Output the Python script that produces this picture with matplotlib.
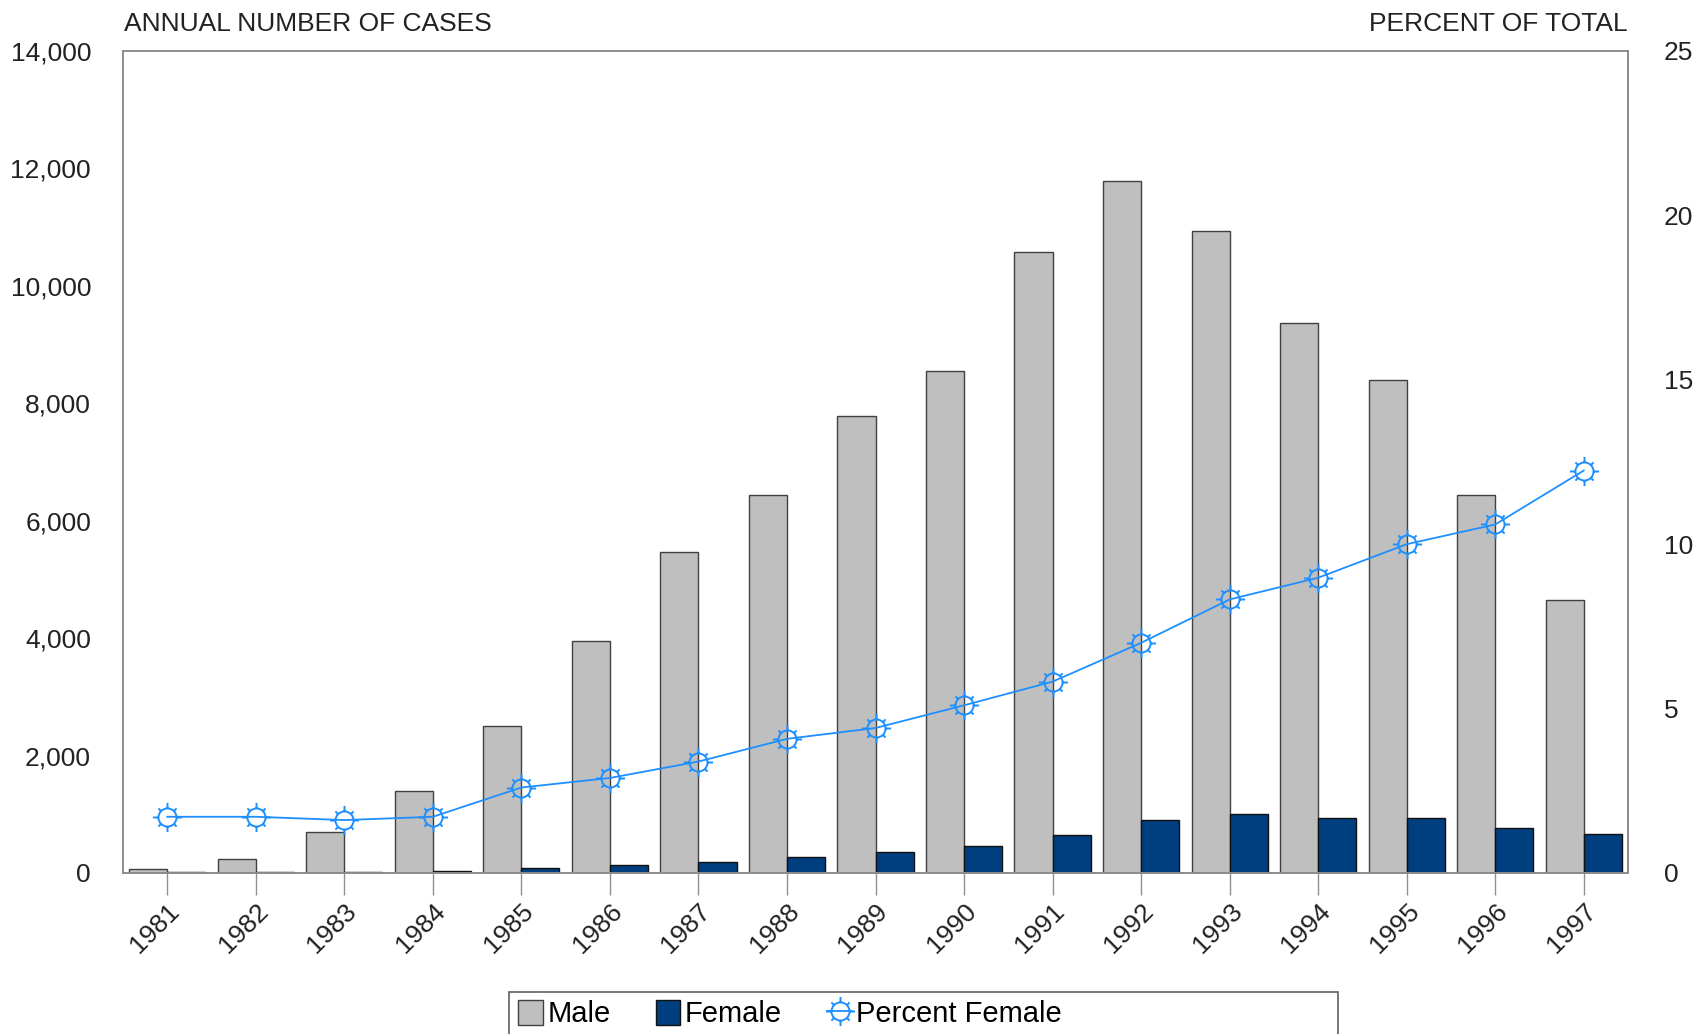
import matplotlib
matplotlib.use("Agg")
import matplotlib.pyplot as plt
import numpy as np
from matplotlib.path import Path
from matplotlib.patches import Rectangle

plt.rcParams['font.family'] = ['Liberation Sans', 'DejaVu Sans']

years = ["1981", "1982", "1983", "1984", "1985", "1986", "1987", "1988", "1989",
         "1990", "1991", "1992", "1993", "1994", "1995", "1996", "1997"]
male = [70, 240, 700, 1400, 2510, 3950, 5470, 6440, 7790, 8550, 10580, 11780,
        10930, 9370, 8390, 6430, 4650]
female = [12, 15, 20, 40, 85, 130, 185, 275, 350, 460, 652, 896, 998, 930, 937, 766, 658]
pct_female = [1.71, 1.71, 1.61, 1.71, 2.6, 2.89, 3.39, 4.08, 4.41, 5.1, 5.82, 7.0,
              8.32, 8.98, 10.0, 10.6, 12.24]

# sun-like marker: circle with 8 spokes
R = 0.62
circ = Path.unit_circle()
verts = list(circ.vertices * R)
codes = list(circ.codes)
for k in range(8):
    a = k * np.pi / 4
    r2 = 1.0 if k % 2 == 0 else 0.88
    verts += [(R * np.cos(a), R * np.sin(a)), (r2 * np.cos(a), r2 * np.sin(a))]
    codes += [Path.MOVETO, Path.LINETO]
sun = Path(verts, codes)

fig = plt.figure(figsize=(16.96, 10.34), dpi=100)
ax = fig.add_axes([123 / 1696, 1 - 873 / 1034, (1628 - 123) / 1696, (873 - 51) / 1034])
ax2 = ax.twinx()

x = np.arange(len(years))
w = 0.43
ax.bar(x - w / 2, male, width=w, color='#BFBFBF', edgecolor='#404040', linewidth=1.0, label='Male', zorder=2)
ax.bar(x + w / 2, female, width=w, color='#003F7F', edgecolor='#111111', linewidth=1.0, label='Female', zorder=2)
ax2.plot(x, pct_female, color='#1E8FFF', linewidth=1.3, marker=sun, markersize=21,
         markerfacecolor='none', markeredgecolor='#1E8FFF', markeredgewidth=1.4,
         label='Percent Female', zorder=3)

ax.set_xlim(-0.5, len(years) - 0.5)
ax.set_ylim(0, 14000)
ax2.set_ylim(0, 25)
ax.set_yticks(np.arange(0, 14001, 2000))
ax.set_yticklabels([f"{v:,}" for v in range(0, 14001, 2000)])
ax2.set_yticks(np.arange(0, 26, 5))
ax.set_xticks(x)
ax.set_xticklabels(years, rotation=45, ha='right', rotation_mode='anchor')

ax.tick_params(axis='y', length=0, pad=23, labelsize=19, colors='#222222')
ax2.tick_params(axis='y', length=0, pad=26, labelsize=19, colors='#222222')
ax.tick_params(axis='x', length=16, width=1.0, color='#909090', labelsize=19, pad=3,
               labelcolor='#222222')
for a in (ax, ax2):
    for s in a.spines.values():
        s.set_color('#8C8C8C')
        s.set_linewidth(1.2)

fig.text(124 / 1696, 1 - 24 / 1034, "ANNUAL NUMBER OF CASES", fontsize=19, ha='left', va='center', color='#222222')
fig.text(1628 / 1696, 1 - 24 / 1034, "PERCENT OF TOTAL", fontsize=19, ha='right', va='center', color='#222222')

# legend box
fig.patches.append(Rectangle((509 / 1696, -0.02), (1338 - 509) / 1696, 1 - 992 / 1034 + 0.02,
                             transform=fig.transFigure, fill=False, edgecolor='#606060', linewidth=1.2))
h1, l1 = ax.get_legend_handles_labels()
h2, l2 = ax2.get_legend_handles_labels()
fig.legend(h1 + h2, l1 + l2, loc='center left', bbox_to_anchor=(518 / 1696, 1 - 1014 / 1034),
           ncol=3, frameon=False, fontsize=21, handlelength=0.85, handleheight=0.95,
           handletextpad=0.15, columnspacing=1.55, borderpad=0, borderaxespad=0,
           markerscale=1.0)

fig.savefig("out.png", dpi=100)
